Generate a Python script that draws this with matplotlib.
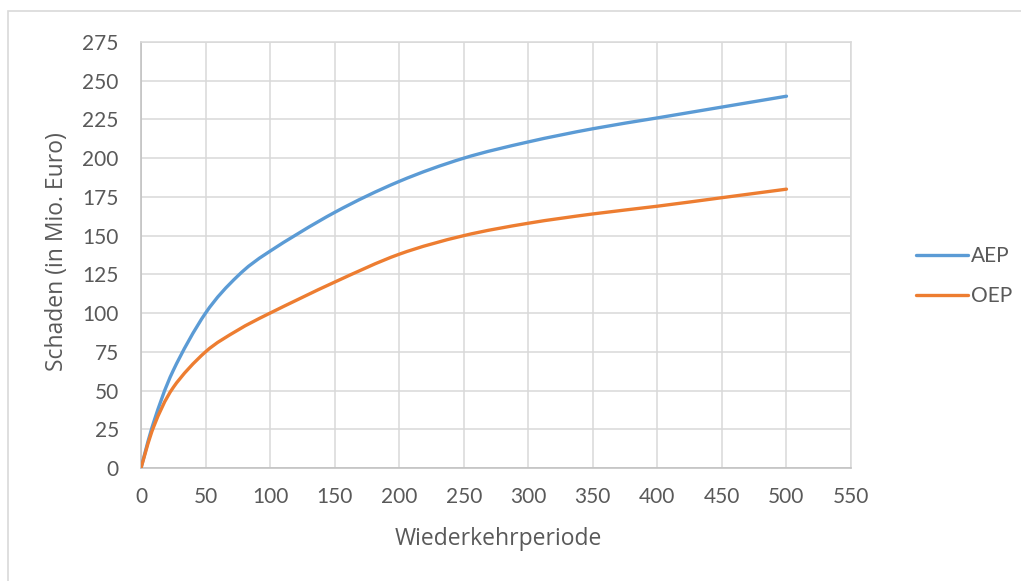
import matplotlib
matplotlib.use('Agg')
import matplotlib.pyplot as plt
from matplotlib.patches import Rectangle, PathPatch
from matplotlib.path import Path
from matplotlib.lines import Line2D

# Werte
periode = [0, 10, 25, 50, 75, 100, 150, 200, 250, 300, 350, 400, 450, 500]
aep = [0, 30, 63, 100, 124, 140, 165, 185, 200, 210.5, 219, 226, 233, 240]
oep = [0, 27, 52, 75, 89, 100, 120, 138, 150, 158, 164, 169, 174.5, 180]

x_ticks = list(range(0, 551, 50))
y_ticks = list(range(0, 276, 25))

BLAU = '#5B9BD5'
ORANGE = '#ED7D31'
GRAU = '#595959'


def smooth_path(xs, ys):
    """Geglaettete Linie wie in Excel (Catmull-Rom als Bezier-Kurven)"""
    n = len(xs)
    verts = [(xs[0], ys[0])]
    codes = [Path.MOVETO]
    for i in range(n - 1):
        x0, y0 = xs[max(i - 1, 0)], ys[max(i - 1, 0)]
        x1, y1 = xs[i], ys[i]
        x2, y2 = xs[i + 1], ys[i + 1]
        x3, y3 = xs[min(i + 2, n - 1)], ys[min(i + 2, n - 1)]
        c1 = (x1 + (x2 - x0) / 6, y1 + (y2 - y0) / 6)
        c2 = (x2 - (x3 - x1) / 6, y2 - (y3 - y1) / 6)
        verts += [c1, c2, (x2, y2)]
        codes += [Path.CURVE4] * 3
    return Path(verts, codes)


plt.rcParams['font.family'] = ['Lato', 'DejaVu Sans']

fig = plt.figure(figsize=(10.21, 5.81), dpi=100)
fig.patches.append(Rectangle((8 / 1021, -0.1), 1.2, 1 - 11 / 581 + 0.1,
                             transform=fig.transFigure, fill=False,
                             edgecolor='#d9d9d9', linewidth=1.2))

ax = fig.add_axes([141 / 1021, 1 - 468 / 581, 710 / 1021, 426 / 581])
for ys, farbe in [(aep, BLAU), (oep, ORANGE)]:
    ax.add_patch(PathPatch(smooth_path(periode, ys), fill=False,
                           edgecolor=farbe, linewidth=2.4,
                           capstyle='round', joinstyle='round', zorder=3))

ax.set_xlim(0, 550)
ax.set_ylim(0, 275)
ax.set_xticks(x_ticks)
ax.set_yticks(y_ticks)
ax.grid(True, color='#d9d9d9', linewidth=1.1)
ax.set_axisbelow(True)
for side in ['top', 'right']:
    ax.spines[side].set_color('#d9d9d9')
    ax.spines[side].set_linewidth(1.1)
for side in ['left', 'bottom']:
    ax.spines[side].set_color('#bfbfbf')
    ax.spines[side].set_linewidth(1.1)
ax.tick_params(length=0, labelsize=15, labelcolor=GRAU)
ax.tick_params(axis='x', pad=14)
ax.tick_params(axis='y', pad=16)

titel_font = ['Open Sans', 'DejaVu Sans']
fig.text(498 / 1021, 1 - 539 / 581, 'Wiederkehrperiode', fontsize=16.5,
         color=GRAU, ha='center', va='center', family=titel_font)
fig.text(57 / 1021, 1 - 252 / 581, 'Schaden (in Mio. Euro)', fontsize=16.5,
         color=GRAU, ha='center', va='center', rotation=90, family=titel_font)

handles = [Line2D([], [], color=BLAU, linewidth=2.4, solid_capstyle='round'),
           Line2D([], [], color=ORANGE, linewidth=2.4, solid_capstyle='round')]
leg = ax.legend(handles, ['AEP', 'OEP'], loc='center left',
                bbox_to_anchor=(1.065, 0.45), frameon=False,
                fontsize=15, handlelength=2.5, handletextpad=0.15,
                labelspacing=0.95)
for t in leg.get_texts():
    t.set_color(GRAU)

fig.savefig('out.png', dpi=100)
